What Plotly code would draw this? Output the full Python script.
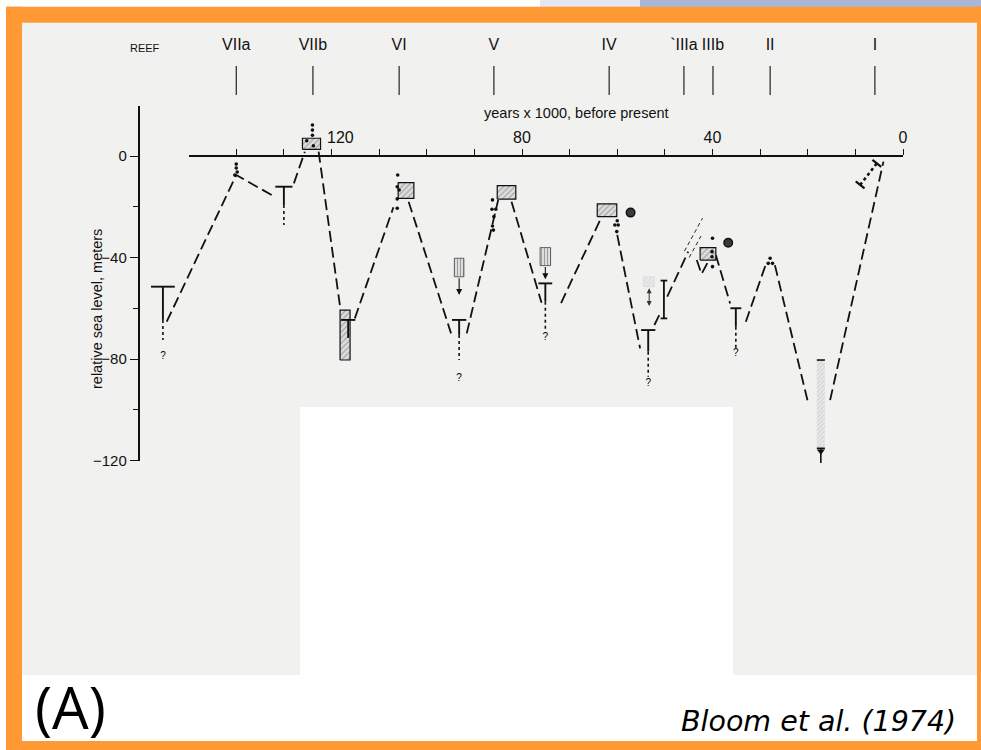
import plotly.graph_objects as go

W, H = 981, 750

# ---------------- data (age in ka before present, level in metres) ----------------
reef_names = ["VIIa", "VIIb", "VI", "V", "IV", "`IIIa", "IIIb", "II", "I"]
reef_ages = [140.0, 123.9, 105.8, 85.9, 61.7, 46.0, 39.9, 27.9, 5.9]

x_tick_vals = [0, 10, 20, 30, 40, 50, 60, 70, 80, 90, 100, 110, 120, 130, 140]
x_tick_labels = ["0", "", "", "", "40", "", "", "", "80", "", "", "", "\u2007\u2007120", "", ""]
y_tick_vals = [0, -40, -80, -120]
y_tick_labels = ["0", "\u221240", "\u221280", "\u2212120"]
y_minor_vals = [-20, -60, -100]

curve_age = [154.6, 140.0, 131.7, None, 127.9, 125.6, None, 122.7, 118.2, None,
             115.1, 107.0, None, 103.8, 94.9, None, 91.6, 85.0, None, 82.2, 75.9, None,
             71.8, 63.6, None, 60.0, 55.2, None, 52.2, 51.0, None, 49.5, 45.1, None,
             43.3, 42.3, 40.9, None, 39.3, 36.3, None, 33.0, 28.6, None, 26.9, 19.9, None,
             15.3, 4.1]
curve_level = [-65.3, -7.5, -16.3, None, -10.8, 1.7, None, 1.7, -59.4, None,
               -64.0, -20.2, None, -18.0, -69.9, None, -69.9, -17.3, None, -18.0, -57.8, None,
               -58.0, -25.2, None, -31.1, -75.8, None, -66.6, -62.0, None, -55.4, -37.7, None,
               -41.0, -46.5, -41.6, None, -39.0, -58.1, None, -65.3, -41.6, None, -43.0, -97.5, None,
               -96.2, -2.2]

alt_age = [45.9, 42.1, None, 44.9, 42.4]
alt_level = [-37.5, -24.5, None, -40.0, -31.5]

t_age = [155.4, 130.0, 116.5, 93.2, 75.1, 53.5, 35.1]
t_top = [-51.5, -12.1, -64.6, -64.6, -50.2, -68.6, -60.0]
t_solid_bottom = [-64.6, -19.3, -71.7, -70.5, -57.4, -77.1, -67.3]
t_dashed_bottom = [-72.5, -27.2, -71.7, -80.4, -68.6, -87.0, -75.8]

question_age = [155.4, 93.2, 75.1, 53.5, 35.1]
question_level = [-79.0, -87.5, -71.5, -89.5, -78.0]

box_old = [126.1, 118.2, 106.0, 85.2, 64.2, 42.6]
box_young = [122.3, 116.1, 102.7, 81.3, 60.1, 39.3]
box_top = [7.0, -60.7, -10.5, -11.7, -18.9, -36.1]
box_bottom = [2.6, -80.4, -16.7, -17.0, -23.9, -41.0]

abox_old = [94.2, 76.2]
abox_young = [92.2, 74.0]
abox_top = [-40.3, -36.1]
abox_bottom = [-47.6, -43.2]
abox_arrow_tip = [-54.8, -48.6]

fbox_old, fbox_young, fbox_top, fbox_bottom = 54.5, 52.2, -47.6, -51.5
farrow_age, farrow_top, farrow_bottom = 53.3, -51.5, -59.1

ibar_age, ibar_top, ibar_bottom = 50.2, -49.1, -64.0

dot_age = [140.0, 140.0, 139.8, 140.3, 124.0, 124.0, 124.0, 125.2, 123.8,
           106.1, 106.2, 105.8, 106.2, 106.2, 86.2, 85.5, 86.3, 85.9, 86.2, 86.0,
           60.0, 60.5, 59.8, 60.1, 40.0, 40.1, 40.1, 40.0, 27.9, 28.3, 27.4]
dot_level = [-3.2, -4.7, -6.3, -7.5, 12.2, 10.2, 8.2, 6.0, 4.0,
             -7.5, -12.1, -13.4, -16.9, -20.6, -17.3, -21.0, -21.0, -23.9, -27.6, -29.2,
             -25.5, -27.2, -27.2, -29.8, -32.4, -37.7, -39.7, -43.6, -40.3, -42.3, -42.3]

circle_age = [57.2, 36.7]
circle_level = [-22.3, -34.2]

low_old, low_young, low_top, low_bottom, low_end = 18.1, 16.4, -80.4, -115.2, -121.0

holo_age = [9.0, 5.5]
holo_level = [-11.4, -2.9]

# ---------------- page geometry (pixels) ----------------
X0_PX, PX_PER_KA = 903.0, 4.7625
Y0_PX, PX_PER_M = 156.0, 2.5375
YAXIS_PX = 138.7


def px(x):
    return x / W


def py(y):
    return 1 - y / H


NARROW = "'Liberation Sans Narrow', 'Liberation Sans', Arial, sans-serif"
INK = "#111111"

fig = go.Figure()

fig.add_trace(go.Scatter(x=curve_age, y=curve_level, mode="lines",
                         line=dict(color=INK, width=1.8, dash="11px,5px"),
                         hoverinfo="skip", showlegend=False))
fig.add_trace(go.Scatter(x=alt_age, y=alt_level, mode="lines",
                         line=dict(color=INK, width=0.9, dash="4px,3px"),
                         hoverinfo="skip", showlegend=False))

bx, by = [], []
for a0, a1, t, b in zip(box_old, box_young, box_top, box_bottom):
    bx += [a0, a1, a1, a0, a0, None]
    by += [b, b, t, t, b, None]
fig.add_trace(go.Scatter(x=bx, y=by, mode="lines", fill="toself",
                         fillpattern=dict(shape="/", fgcolor="#6a6a6a", bgcolor="#dedede",
                                          size=4, solidity=0.3),
                         line=dict(color=INK, width=1.2),
                         hoverinfo="skip", showlegend=False))

ax_, ay_ = [], []
for a0, a1, t, b in zip(abox_old, abox_young, abox_top, abox_bottom):
    ax_ += [a0, a1, a1, a0, a0, None]
    ay_ += [b, b, t, t, b, None]
fig.add_trace(go.Scatter(x=ax_, y=ay_, mode="lines", fill="toself",
                         fillpattern=dict(shape="|", fgcolor="#555555", bgcolor="#e4e4e4",
                                          size=3, solidity=0.4),
                         line=dict(color="#444444", width=0.8),
                         hoverinfo="skip", showlegend=False))
for a0, a1, b, tip in zip(abox_old, abox_young, abox_bottom, abox_arrow_tip):
    mid = (a0 + a1) / 2
    fig.add_annotation(x=mid, y=tip, ax=mid, ay=b, axref="x", ayref="y", xref="x", yref="y",
                       text="", showarrow=True, arrowhead=2, arrowsize=1.1, arrowwidth=1.1,
                       arrowcolor=INK)

fig.add_trace(go.Scatter(x=[fbox_old, fbox_young, fbox_young, fbox_old, fbox_old],
                         y=[fbox_bottom, fbox_bottom, fbox_top, fbox_top, fbox_bottom],
                         mode="lines", fill="toself",
                         fillpattern=dict(shape="/", fgcolor="#c8c8c8", bgcolor="#ececec",
                                          size=3, solidity=0.4),
                         line=dict(color="#d0d0d0", width=0.5),
                         hoverinfo="skip", showlegend=False))
fig.add_annotation(x=farrow_age, y=farrow_bottom, ax=farrow_age, ay=farrow_top,
                   axref="x", ayref="y", xref="x", yref="y", text="", showarrow=True,
                   arrowhead=2, startarrowhead=2, arrowside="end+start", arrowsize=1.0,
                   arrowwidth=1.0, arrowcolor="#333333")

fig.add_trace(go.Scatter(x=[low_old, low_young, low_young, low_old, low_old],
                         y=[low_bottom, low_bottom, low_top, low_top, low_bottom],
                         mode="lines", fill="toself",
                         fillpattern=dict(shape="/", fgcolor="#bdbdbd", bgcolor="#e9e9e9",
                                          size=3, solidity=0.4),
                         line=dict(color="rgba(0,0,0,0)", width=0),
                         hoverinfo="skip", showlegend=False))
lm = (low_old + low_young) / 2
fig.add_trace(go.Scatter(x=[low_old, low_young, None, low_old, low_young, None, lm, lm],
                         y=[low_top, low_top, None, low_bottom, low_bottom, None, low_bottom, low_end],
                         mode="lines", line=dict(color=INK, width=1.6),
                         hoverinfo="skip", showlegend=False))
fig.add_trace(go.Scatter(x=[lm], y=[low_bottom - 1.2], mode="markers",
                         marker=dict(symbol="triangle-down", size=7, color=INK),
                         hoverinfo="skip", showlegend=False))

t_half = [2.5, 1.8, 1.5, 1.5, 1.45, 1.5, 1.15]
tx, ty, dx_, dy_ = [], [], [], []
for a, top, sb, db, hw in zip(t_age, t_top, t_solid_bottom, t_dashed_bottom, t_half):
    tx += [a - hw, a + hw, None, a, a, None]
    ty += [top, top, None, top, sb, None]
    if db < sb:
        dx_ += [a, a, None]
        dy_ += [sb, db, None]
fig.add_trace(go.Scatter(x=tx, y=ty, mode="lines", line=dict(color=INK, width=1.9),
                         hoverinfo="skip", showlegend=False))
fig.add_trace(go.Scatter(x=dx_, y=dy_, mode="lines", line=dict(color=INK, width=1.6, dash="3px,3px"),
                         hoverinfo="skip", showlegend=False))
fig.add_trace(go.Scatter(x=question_age, y=question_level, mode="text", text=["?"] * len(question_age),
                         textfont=dict(family=NARROW, size=10, color="#000000"),
                         hoverinfo="skip", showlegend=False))

fig.add_trace(go.Scatter(x=[ibar_age, ibar_age, None, ibar_age - 0.7, ibar_age + 0.7, None,
                            ibar_age - 0.7, ibar_age + 0.7],
                         y=[ibar_top, ibar_bottom, None, ibar_top, ibar_top, None, ibar_bottom, ibar_bottom],
                         mode="lines", line=dict(color=INK, width=1.8),
                         hoverinfo="skip", showlegend=False))

fig.add_trace(go.Scatter(x=holo_age, y=holo_level, mode="lines+markers",
                         line=dict(color=INK, width=2.6, dash="dot"),
                         marker=dict(symbol="line-ew", size=8, angle=38,
                                     line=dict(color=INK, width=2.2)),
                         hoverinfo="skip", showlegend=False))

fig.add_trace(go.Scatter(x=dot_age, y=dot_level, mode="markers",
                         marker=dict(size=3.6, color=INK),
                         hoverinfo="skip", showlegend=False))
fig.add_trace(go.Scatter(x=circle_age, y=circle_level, mode="markers",
                         marker=dict(size=8.5, color="#3a3a3a", line=dict(color=INK, width=1.5)),
                         hoverinfo="skip", showlegend=False))

reef_line_x, reef_line_y = [], []
for a in reef_ages:
    reef_line_x += [a, a, None]
    reef_line_y += [35.5, 24.0, None]
fig.add_trace(go.Scatter(x=reef_line_x, y=reef_line_y, mode="lines",
                         line=dict(color=INK, width=1.1), hoverinfo="skip", showlegend=False))
fig.add_trace(go.Scatter(x=reef_ages, y=[43.4] * len(reef_ages), mode="text", text=reef_names,
                         textfont=dict(family=NARROW, size=16, color=INK),
                         hoverinfo="skip", showlegend=False))
fig.add_annotation(x=159.2, y=42.6, xref="x", yref="y", text="REEF", showarrow=False,
                   font=dict(family=NARROW, size=11, color=INK))

fig.add_annotation(x=68.5, y=16.9, xref="x", yref="y", text="years x 1000, before present",
                   showarrow=False, font=dict(family=NARROW, size=14.5, color=INK))
fig.add_annotation(x=px(87), y=py(309), xref="paper", yref="paper",
                   text="relative sea level, meters", textangle=-90, showarrow=False,
                   font=dict(family=NARROW, size=14.5, color=INK))

fig.add_annotation(x=px(33), y=py(706), xref="paper", yref="paper", text="(A)",
                   xanchor="left", yanchor="middle", showarrow=False,
                   font=dict(family="'Open Sans', 'DejaVu Sans', sans-serif", size=58, color="#000000"))
fig.add_annotation(x=px(958), y=py(721), xref="paper", yref="paper", text="<i>Bloom et al. (1974)</i>",
                   xanchor="right", yanchor="middle", showarrow=False,
                   font=dict(family="'DejaVu Sans', sans-serif", size=28.5, color="#000000"))

fig.add_trace(go.Scatter(x=[0], y=[0], xaxis="x2", yaxis="y2", mode="markers",
                         marker=dict(opacity=0), hoverinfo="skip", showlegend=False))

shapes = [
    dict(type="rect", xref="paper", yref="paper", x0=px(540), x1=px(640), y0=py(7), y1=py(0),
         fillcolor="#e2e7f1", line=dict(width=0), layer="below"),
    dict(type="rect", xref="paper", yref="paper", x0=px(640), x1=px(981), y0=py(7), y1=py(0),
         fillcolor="#a9b6d6", line=dict(width=0), layer="below"),
    dict(type="rect", xref="paper", yref="paper", x0=px(22), x1=px(300), y0=py(675), y1=py(22.7),
         fillcolor="#f1f1ef", line=dict(width=0), layer="below"),
    dict(type="rect", xref="paper", yref="paper", x0=px(300), x1=px(733), y0=py(407), y1=py(22.7),
         fillcolor="#f1f1ef", line=dict(width=0), layer="below"),
    dict(type="rect", xref="paper", yref="paper", x0=px(733), x1=px(977), y0=py(675), y1=py(22.7),
         fillcolor="#f1f1ef", line=dict(width=0), layer="below"),
]
ORANGE = "#ff9933"
for x0, x1, y0, y1 in [(6, 22, 6.7, 750), (6, 981, 6.7, 22.7), (977, 981, 6.7, 750), (6, 981, 741, 750)]:
    shapes.append(dict(type="rect", xref="paper", yref="paper", x0=px(x0), x1=px(x1),
                       y0=py(y1), y1=py(y0), fillcolor=ORANGE, line=dict(width=0), layer="below"))

fig.update_layout(
    width=W, height=H, autosize=False,
    margin=dict(l=0, r=0, t=0, b=0, pad=0, autoexpand=False),
    paper_bgcolor="#ffffff", plot_bgcolor="rgba(0,0,0,0)",
    showlegend=False, shapes=shapes,
    xaxis=dict(domain=[0, 1], range=[X0_PX / PX_PER_KA, -(W - X0_PX) / PX_PER_KA],
               visible=False, fixedrange=True, automargin=False),
    yaxis=dict(domain=[0, 1], range=[-(H - Y0_PX) / PX_PER_M, Y0_PX / PX_PER_M],
               visible=False, fixedrange=True, automargin=False),
    xaxis2=dict(domain=[(X0_PX - 150 * PX_PER_KA) / W, X0_PX / W], range=[150, 0],
                anchor="free", position=1 - Y0_PX / H, side="top", automargin=False,
                showline=True, linecolor=INK, linewidth=1.8, showgrid=False, zeroline=False,
                ticks="outside", ticklen=6, tickwidth=1.3, tickcolor=INK,
                tickmode="array", tickvals=x_tick_vals, ticktext=x_tick_labels,
                tickfont=dict(family=NARROW, size=16, color=INK), fixedrange=True),
    yaxis2=dict(domain=[1 - (Y0_PX + 120 * PX_PER_M) / H, 1 - (Y0_PX - 19.7 * PX_PER_M) / H],
                range=[-120, 19.7], anchor="free", position=YAXIS_PX / W, side="left",
                automargin=False,
                showline=True, linecolor=INK, linewidth=1.8, showgrid=False, zeroline=False,
                ticks="outside", ticklen=8, tickwidth=1.3, tickcolor=INK,
                tickmode="array", tickvals=y_tick_vals, ticktext=y_tick_labels,
                tickfont=dict(family=NARROW, size=15, color=INK),
                minor=dict(tickmode="array", tickvals=y_minor_vals, ticks="outside",
                           ticklen=5, tickwidth=1.3, tickcolor=INK, showgrid=False),
                fixedrange=True),
)

fig.write_html("out.html")
